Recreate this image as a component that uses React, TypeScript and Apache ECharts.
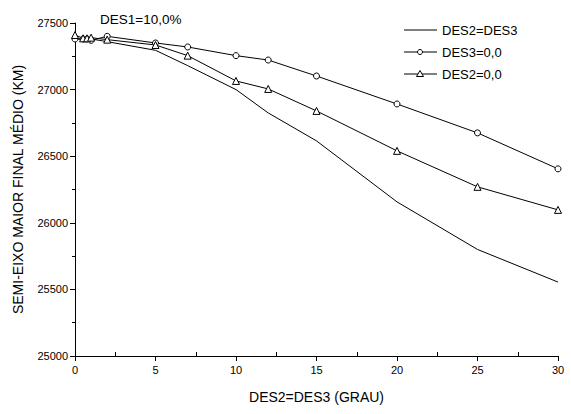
import React, { useEffect, useRef } from "react";
import * as echarts from "echarts";

const xValues = [0, 0.5, 0.75, 1, 2, 5, 7, 10, 12, 15, 20, 25, 30];
const desEqual = [27380, 27380, 27385, 27380, 27360, 27295, 27180, 27000, 26825, 26615, 26157, 25800, 25555];
const des3Zero = [27380, 27380, 27380, 27370, 27400, 27350, 27320, 27255, 27222, 27102, 26892, 26675, 26405];
const des2Zero = [27410, 27385, 27385, 27390, 27375, 27335, 27255, 27065, 27005, 26840, 26540, 26270, 26097];
const xMinorTicks = [2.5, 7.5, 12.5, 17.5, 22.5, 27.5];
const seriesNames = ["DES2=DES3", "DES3=0,0", "DES2=0,0"];

const FONT = "Liberation Sans, Arial, sans-serif";

function legendGraphic() {
  const els: any[] = [];
  const x0 = 404, x1 = 437, xm = 420;
  const rows = [30, 52, 74];
  const stroke = { stroke: "#000", lineWidth: 1 };
  seriesNames.forEach((name, i) => {
    const y = rows[i];
    els.push({ type: "line", shape: { x1: x0, y1: y, x2: x1, y2: y }, style: stroke, z: 10 });
    if (i === 1) {
      els.push({ type: "circle", shape: { cx: xm, cy: y, r: 2.5 }, style: { fill: "#fff", ...stroke }, z: 11 });
    } else if (i === 2) {
      els.push({
        type: "polygon",
        shape: { points: [[xm, y - 3.5], [xm - 3.5, y + 2.5], [xm + 3.5, y + 2.5]] },
        style: { fill: "#fff", ...stroke },
        z: 11,
      });
    }
    els.push({
      type: "text",
      x: 442,
      y,
      style: { text: name, font: `13px ${FONT}`, fill: "#000", textVerticalAlign: "middle", verticalAlign: "middle" },
      z: 11,
    });
  });
  return els;
}

export default function App() {
  const ref = useRef<HTMLDivElement>(null);
  useEffect(() => {
    if (!ref.current) return;
    const chart = echarts.init(ref.current, undefined, { renderer: "svg" });
    const pair = (ys: number[]) => xValues.map((x, i) => [x, ys[i]]);
    chart.setOption({
      animation: false,
      backgroundColor: "#ffffff",
      textStyle: { fontFamily: FONT, color: "#000" },
      title: {
        text: "DES1=10,0%",
        left: 95,
        top: 7,
        textStyle: { fontFamily: FONT, fontSize: 13.5, fontWeight: "normal", color: "#000" },
      },
      graphic: legendGraphic(),
      grid: { left: 75, right: 13, top: 23, bottom: 58, containLabel: false },
      xAxis: [
        {
          type: "value",
          min: 0,
          max: 30,
          interval: 5,
          name: "DES2=DES3 (GRAU)",
          nameLocation: "middle",
          nameGap: 34,
          nameTextStyle: { fontFamily: FONT, fontSize: 14, color: "#000" },
          axisLine: { show: true, lineStyle: { color: "#000", width: 1 } },
          axisTick: { show: true, inside: false, length: 5, lineStyle: { color: "#000" } },
          axisLabel: { fontFamily: FONT, fontSize: 11, color: "#000", margin: 8 },
          splitLine: { show: false },
        },
        {
          type: "value",
          min: 0,
          max: 30,
          interval: 2.5,
          position: "bottom",
          axisLine: { show: false, onZero: false },
          axisTick: {
            show: true,
            inside: true,
            length: 4,
            customValues: xMinorTicks,
            lineStyle: { color: "#000", width: 1 },
          },
          axisLabel: { show: false },
          splitLine: { show: false },
        },
      ],
      yAxis: {
        type: "value",
        min: 25000,
        max: 27500,
        interval: 500,
        name: "SEMI-EIXO MAIOR FINAL MÉDIO (KM)",
        nameLocation: "middle",
        nameGap: 50,
        nameTextStyle: { fontFamily: FONT, fontSize: 14, color: "#000" },
        axisLine: { show: true, lineStyle: { color: "#000", width: 1 } },
        axisTick: { show: true, inside: false, length: 5, lineStyle: { color: "#000" } },
        minorTick: { show: true, splitNumber: 2, length: 3, lineStyle: { color: "#000" } },
        axisLabel: { fontFamily: FONT, fontSize: 11, color: "#000", margin: 7, formatter: (v: number) => String(v) },
        splitLine: { show: false },
      },
      series: [
        {
          name: seriesNames[0],
          type: "line",
          data: pair(desEqual),
          symbol: "none",
          lineStyle: { color: "#000", width: 1 },
          itemStyle: { color: "#000" },
        },
        {
          name: seriesNames[1],
          type: "line",
          data: pair(des3Zero),
          symbol: "circle",
          symbolSize: 6,
          lineStyle: { color: "#000", width: 1 },
          itemStyle: { color: "#fff", borderColor: "#000", borderWidth: 1 },
        },
        {
          name: seriesNames[2],
          type: "line",
          data: pair(des2Zero),
          symbol: "triangle",
          symbolSize: 7,
          lineStyle: { color: "#000", width: 1 },
          itemStyle: { color: "#fff", borderColor: "#000", borderWidth: 1 },
        },
      ],
    });
    return () => chart.dispose();
  }, []);
  return <div ref={ref} style={{ width: 571, height: 414, position: "absolute", left: 0, top: 0 }} />;
}
